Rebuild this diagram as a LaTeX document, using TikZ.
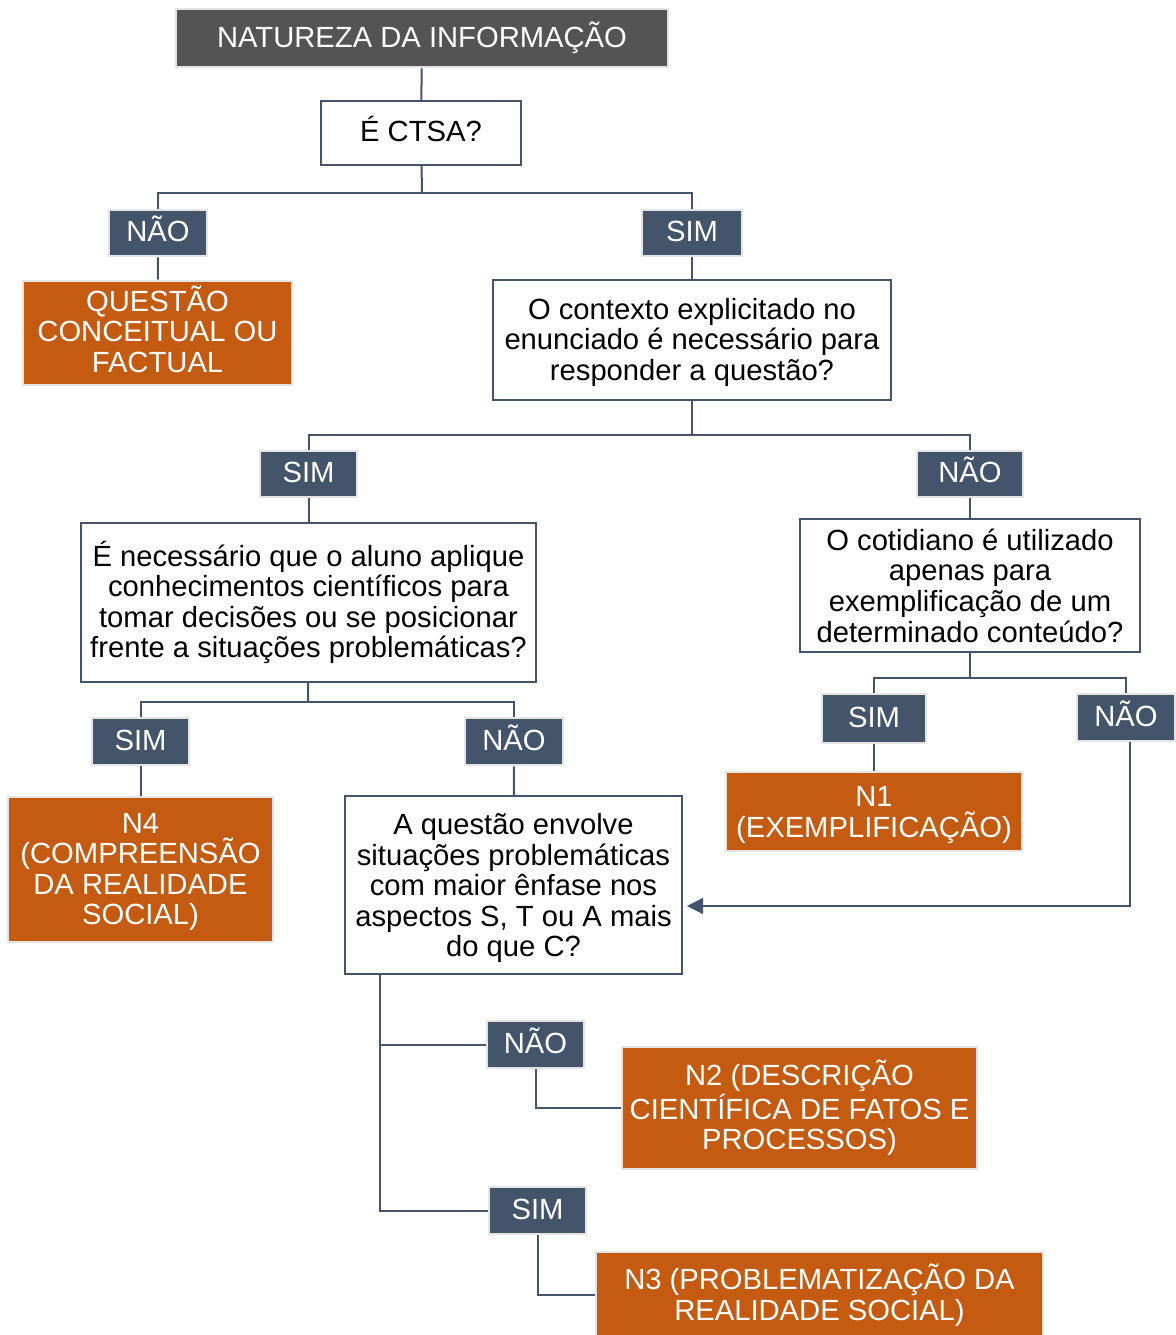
\documentclass[tikz,border=0pt]{standalone}
\usepackage{fontspec}
\setmainfont{Liberation Sans}
\usetikzlibrary{arrows.meta}
\definecolor{headgray}{HTML}{545454}
\definecolor{slate}{HTML}{44546A}
\definecolor{rust}{HTML}{C55A11}
\definecolor{edgegray}{HTML}{E4E4E4}
% invisible struts to nudge text inside a box
\newcommand{\topgap}[1]{\rule{0pt}{#1}}
\newcommand{\botgap}[1]{\rule[-#1]{0pt}{0pt}}
\tikzset{
  every node/.style={font={\fontsize{14.6}{15.3}\selectfont}, inner sep=0pt, align=center},
  oneline/.style={text height=8.6pt, text depth=0pt},
  head/.style={fill=headgray, draw=edgegray, line width=1.3pt, text=white},
  quest/.style={fill=white, draw=slate, line width=1pt, text=black},
  resp/.style={fill=slate, draw=edgegray, line width=1.3pt, text=white, oneline},
  nivel/.style={fill=rust, draw=edgegray, line width=1.3pt, text=white},
  link/.style={draw=slate, line width=1pt},
}
\begin{document}
\begin{tikzpicture}[x=0.5pt,y=-0.5pt]
  \useasboundingbox (0,0) rectangle (1176,1335);
  % top
  \node[head, minimum width=246pt, minimum height=29pt] (natureza) at (422,38) {NATUREZA DA INFORMAÇÃO};
  \node[quest, oneline, minimum width=100pt, minimum height=32pt] (ctsa) at (421,133) {É CTSA?};
  \node[resp, minimum width=49pt, minimum height=23pt] (nao1) at (158,233) {NÃO};
  \node[resp, minimum width=50pt, minimum height=23pt] (sim1) at (692,233) {SIM};
  \node[nivel, minimum width=134.5pt, minimum height=52pt] (conceitual) at (157.5,333) {QUESTÃO\\CONCEITUAL OU\\FACTUAL\botgap{4pt}};
  \node[quest, minimum width=199pt, minimum height=60pt] (contexto) at (692,340) {\topgap{12.7pt}O contexto explicitado no\\enunciado é necessário para\\responder a questão?};
  % second level
  \node[resp, minimum width=48.5pt, minimum height=23pt] (sim2) at (308.5,474) {SIM};
  \node[resp, minimum width=53pt, minimum height=23pt] (nao2) at (970,474) {NÃO};
  \node[quest, minimum width=227.5pt, minimum height=79.5pt] (necessario) at (308.5,602.5) {É necessário que o aluno aplique\\conhecimentos científicos para\\tomar decisões ou se posicionar\\frente a situações problemáticas?};
  \node[quest, minimum width=170pt, minimum height=66.5pt] (cotidiano) at (970,585.5) {O cotidiano é utilizado\\apenas para\\exemplificação de um\\determinado conteúdo?};
  % third level
  \node[resp, minimum width=48.5pt, minimum height=23.5pt] (sim3) at (140.5,741.5) {SIM};
  \node[resp, minimum width=49pt, minimum height=23.5pt] (nao3) at (514,741.5) {NÃO};
  \node[nivel, minimum width=132.5pt, minimum height=72.5pt] (n4) at (140.5,869.5) {\topgap{12.5pt}N4\\(COMPREENSÃO\\DA REALIDADE\\SOCIAL)};
  \node[quest, minimum width=168.5pt, minimum height=89pt] (questao) at (513.5,885) {\topgap{13.7pt}A questão envolve\\situações problemáticas\\com maior ênfase nos\\aspectos S, T ou A mais\\do que C?};
  \node[resp, minimum width=52pt, minimum height=24.5pt] (sim4) at (874,718.5) {SIM};
  \node[resp, minimum width=49pt, minimum height=23.5pt] (nao4) at (1126,717.5) {NÃO};
  \node[nivel, minimum width=148pt, minimum height=39.5pt] (n1) at (874,811.5) {\topgap{13.5pt}N1\\(EXEMPLIFICAÇÃO)};
  % bottom
  \node[resp, minimum width=48.5pt, minimum height=23.5pt] (nao5) at (535.5,1044.5) {NÃO};
  \node[resp, minimum width=48.5pt, minimum height=23.5pt] (sim5) at (537.5,1210.5) {SIM};
  \node[nivel, minimum width=177.5pt, minimum height=61pt] (n2) at (799.5,1108) {N2 (DESCRIÇÃO\\CIENTÍFICA DE FATOS E\\PROCESSOS)};
  \node[nivel, minimum width=223.5pt, minimum height=43pt] (n3) at (819.5,1295) {N3 (PROBLEMATIZAÇÃO DA\\REALIDADE SOCIAL)};
  % junctions
  \coordinate (j1) at (422,193);
  \coordinate (j2) at (692,435);
  \coordinate (j3) at (308,702);
  \coordinate (j4) at (970,678);
  \coordinate (j5) at (380,974);
  % connectors
  \draw[link] (natureza) -- (ctsa);
  \draw[link] (ctsa) -- (j1);
  \draw[link] (nao1.north) |- (j1);
  \draw[link] (sim1.north) |- (j1);
  \draw[link] (nao1) -- (conceitual);
  \draw[link] (sim1) -- (contexto);
  \draw[link] (contexto) -- (j2);
  \draw[link] (sim2.north) |- (j2);
  \draw[link] (nao2.north) |- (j2);
  \draw[link] (sim2) -- (necessario);
  \draw[link] (nao2) -- (cotidiano);
  \draw[link] (necessario) -- (j3);
  \draw[link] (sim3.north) |- (j3);
  \draw[link] (nao3.north) |- (j3);
  \draw[link] (sim3) -- (n4);
  \draw[link] (nao3) -- (questao);
  \draw[link] (cotidiano) -- (j4);
  \draw[link] (sim4.north) |- (j4);
  \draw[link] (nao4.north) |- (j4);
  \draw[link] (sim4) -- (n1);
  \draw[link, line width=0.75pt, -{Triangle[length=8pt,width=8pt]}, shorten >=2pt]
    ([xshift=2pt]nao4.south) |- ([yshift=-10.5pt]questao.east);
  \draw[link] (j5) |- (sim5.west);
  \draw[link] (j5) |- (nao5.west);
  \draw[link] (nao5.south) |- (n2.west);
  \draw[link] (sim5.south) |- (n3.west);
\end{tikzpicture}
\end{document}
